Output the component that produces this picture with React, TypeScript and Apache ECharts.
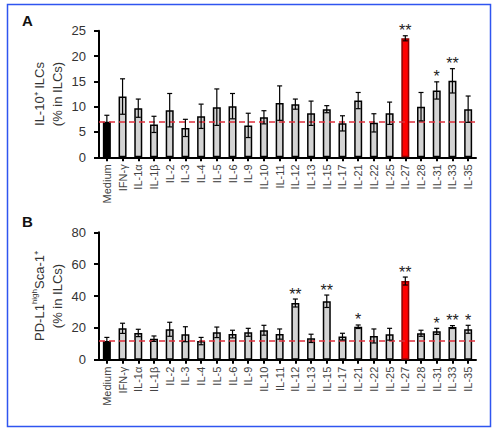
import React, { useEffect, useRef } from "react";
import * as echarts from "echarts";

const categories = ["Medium", "IFN-γ", "IL-1α", "IL-1β", "IL-2", "IL-3", "IL-4", "IL-5", "IL-6", "IL-9", "IL-10", "IL-11", "IL-12", "IL-13", "IL-15", "IL-17", "IL-21", "IL-22", "IL-25", "IL-27", "IL-28", "IL-31", "IL-33", "IL-35"];

const il10Mean = [7.0, 12.0, 9.7, 6.5, 9.3, 5.8, 8.1, 9.9, 10.1, 6.3, 7.9, 10.7, 10.5, 8.7, 9.5, 6.7, 11.2, 6.8, 8.7, 23.5, 10.0, 13.2, 15.1, 9.5];
const il10Err = [1.3, 3.5, 1.8, 1.6, 3.3, 1.7, 2.4, 3.6, 2.5, 2.4, 1.3, 3.4, 1.0, 2.4, 0.7, 1.5, 1.6, 1.8, 2.2, 0.5, 2.8, 1.7, 2.4, 2.6];
const il10Sig = ["", "", "", "", "", "", "", "", "", "", "", "", "", "", "", "", "", "", "", "**", "", "*", "**", ""];

const pdl1Mean = [11.7, 19.7, 16.8, 13.2, 19.1, 16.0, 11.7, 17.2, 16.1, 17.2, 18.5, 16.1, 35.6, 13.4, 36.7, 14.5, 20.7, 14.9, 16.0, 49.4, 16.6, 17.8, 20.5, 19.1];
const pdl1Err = [2.3, 3.2, 2.3, 1.7, 4.4, 4.7, 2.3, 3.3, 2.4, 2.5, 3.1, 3.2, 2.5, 2.6, 3.9, 2.1, 1.1, 4.4, 3.7, 2.5, 1.9, 1.9, 0.9, 2.5];
const pdl1Sig = ["", "", "", "", "", "", "", "", "", "", "", "", "**", "", "**", "", "*", "", "", "**", "", "*", "**", "*"];

const FONT = "Liberation Sans, Arial, sans-serif";

function barColor(i: number) {
  if (i === 0) return "#000000";
  if (i === 19) return "#ff0000";
  return "#d3d3d3";
}

function barBorder(i: number) {
  if (i === 19) return "#8a0000";
  return "#000000";
}

function makeBars(values: number[], idx: number) {
  return {
    type: "bar",
    xAxisIndex: idx,
    yAxisIndex: idx,
    barWidth: 8,
    data: values.map((v, i) => ({
      value: v,
      itemStyle: { color: barColor(i), borderColor: barBorder(i), borderWidth: 1.5 },
    })),
    markLine: {
      silent: true,
      symbol: "none",
      label: { show: false },
      lineStyle: { color: "#e0303c", type: [6, 4], width: 1.5 },
      data: [{ yAxis: values[0] }],
    },
  };
}

function makeErrors(values: number[], errs: number[], sig: string[], idx: number) {
  return {
    type: "custom",
    xAxisIndex: idx,
    yAxisIndex: idx,
    z: 5,
    data: values.map((v, i) => [i, v, errs[i]]),
    renderItem: (params: any, api: any) => {
      const x = api.value(0);
      const v = api.value(1);
      const e = api.value(2);
      const top = api.coord([x, v + e]);
      const bot = api.coord([x, v - e]);
      const cap = 2.5;
      const st = { stroke: "#000", lineWidth: 1.2 };
      const children: any[] = [
        { type: "line", shape: { x1: top[0], y1: top[1], x2: bot[0], y2: bot[1] }, style: st },
        { type: "line", shape: { x1: top[0] - cap, y1: top[1], x2: top[0] + cap, y2: top[1] }, style: st },
        { type: "line", shape: { x1: bot[0] - cap, y1: bot[1], x2: bot[0] + cap, y2: bot[1] }, style: st },
      ];
      const s = sig[params.dataIndex];
      if (s) {
        children.push({
          type: "text",
          style: {
            text: s,
            x: top[0],
            y: top[1] - 5,
            align: "center",
            verticalAlign: "middle",
            fontSize: 16,
            fontFamily: FONT,
            fill: "#222",
          },
        });
      }
      return { type: "group", children };
    },
  };
}

function xAxis(idx: number) {
  return {
    type: "category",
    gridIndex: idx,
    data: categories,
    axisLine: { show: true, lineStyle: { color: "#000", width: 2 } },
    axisTick: { show: true, alignWithLabel: true, length: 4, lineStyle: { color: "#000", width: 2 } },
    axisLabel: { rotate: 90, fontSize: 11, fontFamily: FONT, color: "#444", margin: 7, interval: 0 },
  };
}

function yAxis(idx: number, max: number, interval: number, name: string, rich?: any) {
  return {
    type: "value",
    gridIndex: idx,
    min: 0,
    max,
    interval,
    name,
    nameLocation: "middle",
    nameRotate: 90,
    nameGap: 33,
    nameMoveOverlap: false,
    nameTextStyle: { fontSize: 13, fontFamily: FONT, color: "#333", lineHeight: 18, rich },
    axisLine: { show: true, lineStyle: { color: "#000", width: 2 } },
    axisTick: { show: true, length: 5, lineStyle: { color: "#000", width: 2 } },
    axisLabel: { fontSize: 13, fontFamily: FONT, color: "#333", margin: 13 },
    splitLine: { show: false },
  };
}

export default function App() {
  const ref = useRef<HTMLDivElement>(null);
  useEffect(() => {
    if (!ref.current) return;
    const chart = echarts.init(ref.current, null, { renderer: "svg" });
    chart.setOption({
      animation: false,
      backgroundColor: "#ffffff",
      grid: [
        { left: 99, top: 30.7, width: 377, height: 126.6 },
        { left: 99, top: 232.3, width: 377, height: 127.4 },
      ],
      xAxis: [xAxis(0), xAxis(1)],
      yAxis: [
        yAxis(0, 25, 5, "IL-10⁺ ILCs\n(% in ILCs)"),
        yAxis(1, 80, 20, "{n|PD-L1}{s|high}{n|Sca-1⁺}\n{n|(% in ILCs)}", {
          n: { fontSize: 13, fontFamily: FONT, color: "#333", lineHeight: 18 },
          s: { fontSize: 8, fontFamily: FONT, color: "#333", lineHeight: 18, verticalAlign: "top" },
        }),
      ],
      series: [
        makeBars(il10Mean, 0),
        makeErrors(il10Mean, il10Err, il10Sig, 0),
        makeBars(pdl1Mean, 1),
        makeErrors(pdl1Mean, pdl1Err, pdl1Sig, 1),
      ],
      graphic: [
        {
          type: "rect",
          shape: { x: 7.5, y: 4.5, width: 483, height: 422 },
          style: { fill: "none", stroke: "#2f55f0", lineWidth: 1.5 },
          silent: true,
        },
        {
          type: "text",
          x: 22,
          y: 13,
          style: { text: "A", fontSize: 15, fontWeight: "bold", fontFamily: FONT, fill: "#111" },
        },
        {
          type: "text",
          x: 22,
          y: 214,
          style: { text: "B", fontSize: 15, fontWeight: "bold", fontFamily: FONT, fill: "#111" },
        },
      ],
    });
    return () => chart.dispose();
  }, []);
  return (
    <div
      ref={ref}
      style={{ position: "fixed", left: 0, top: 0, width: 493, height: 429 }}
    />
  );
}
